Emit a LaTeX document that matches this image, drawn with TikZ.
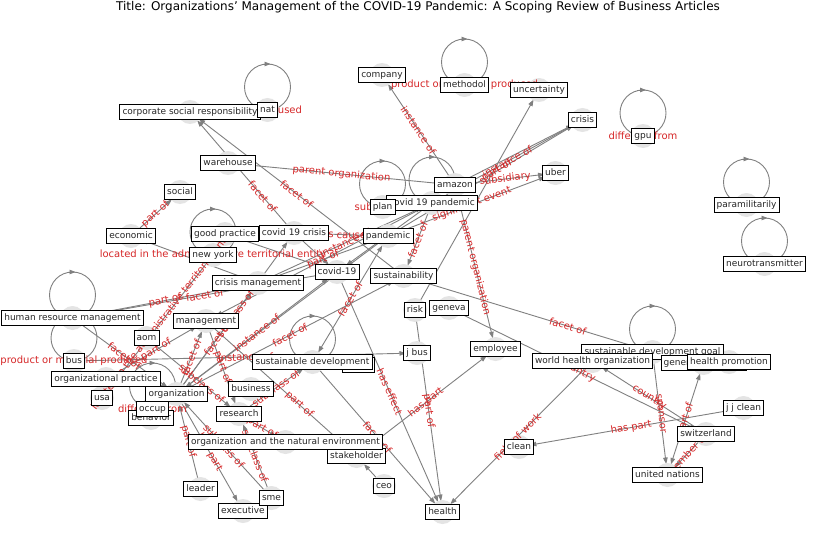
\documentclass[tikz,border=0pt]{standalone}
\usepackage{fontspec}
\setmainfont{DejaVu Sans}
\usetikzlibrary{arrows.meta}
\pgfdeclarelayer{bg}
\pgfdeclarelayer{edges}
\pgfdeclarelayer{disks}
\pgfdeclarelayer{elabels}
\pgfsetlayers{bg,edges,disks,elabels,main}
\definecolor{edgegray}{RGB}{128,128,128}
\definecolor{diskgray}{RGB}{228,228,228}
\definecolor{labred}{RGB}{214,39,40}
\tikzset{
 nb/.style={draw=black, line width=0.8pt, fill=white, font=\fontsize{9}{10}\selectfont, text=black!85, inner xsep=2.7pt, inner ysep=2.7pt, text height=7.6pt, text depth=2.1pt},
 el/.style={sloped, font=\fontsize{10}{11}\selectfont, text=labred, inner sep=0pt},
 ed/.style={draw=edgegray, line width=0.9pt, -{Triangle[length=6.5pt,width=4.5pt]}, shorten >=11pt, shorten <=11pt},
 edb/.style={ed, {Triangle[length=6.5pt,width=4.5pt]}-{Triangle[length=6.5pt,width=4.5pt]}},
 lp/.style={draw=edgegray, line width=0.9pt},
 disk/.style={fill=diskgray}
}
\newcommand\edg[4]{%
  \begin{pgfonlayer}{edges}\draw[ed] (#1.center) -- (#2.center);\end{pgfonlayer}%
  \begin{pgfonlayer}{elabels}\path (#1.center) -- node[el,pos=#4]{#3} (#2.center);\end{pgfonlayer}}
\newcommand\edgn[2]{\begin{pgfonlayer}{edges}\draw[ed] (#1.center) -- (#2.center);\end{pgfonlayer}}
\newcommand\selfloop[2]{%
  \begin{pgfonlayer}{edges}
  \draw[lp] ([yshift=23pt]#1.center) circle[radius=23pt];
  \draw[lp,-{Triangle[length=6pt,width=4.5pt]}] ([xshift=-6pt,yshift=46pt]#1.center) -- ([xshift=3pt,yshift=46pt]#1.center);
  \end{pgfonlayer}%
  \begin{pgfonlayer}{elabels}\node[el] at (#1.center) {#2};\end{pgfonlayer}}
\begin{document}
\begin{tikzpicture}[x=1pt,y=-1pt]
\begin{pgfonlayer}{bg}\fill[white] (0,0) rectangle (837,559);\end{pgfonlayer}
\useasboundingbox (0,0) rectangle (837,559);
\node[font=\fontsize{12}{14}\selectfont, text=black] (title) at (418,7) {Title: Organizations’ Management of the COVID-19 Pandemic: A Scoping Review of Business Articles};
% nodes
\node[nb] (csr) at (190,112) {corporate social responsibility};
\node[nb] (nat) at (267.5,110) {nat};
\node[nb] (company) at (382,75) {company};
\node[nb] (methodol) at (464.5,85) {methodol};
\node[nb] (uncertainty) at (539,90) {uncertainty};
\node[nb] (crisis) at (582.5,120) {crisis};
\node[nb] (gpu) at (643,136) {gpu};
\node[nb] (warehouse) at (228,163) {warehouse};
\node[nb] (social) at (180,192) {social};
\node[nb] (amazon) at (455,185) {amazon};
\node[nb] (uber) at (555.5,173) {uber};
\node[nb] (covpand) at (432,203) {covid 19 pandemic};
\node[nb] (plan) at (382.5,207) {plan};
\node[nb] (economic) at (131,236) {economic};
\node[nb] (goodpr) at (225,234) {good practice};
\node[nb] (covcrisis) at (294,233) {covid 19 crisis};
\node[nb] (pandemic) at (388,236) {pandemic};
\node[nb] (newyork) at (213,255) {new york};
\node[nb] (covid) at (337,272) {covid-19};
\node[nb] (sustain) at (403.5,276) {sustainability};
\node[nb] (crismgmt) at (258,283) {crisis management};
\node[nb] (paramil) at (746.5,205) {paramilitarily};
\node[nb] (neuro) at (764.5,264) {neurotransmitter};
\node[nb] (hrm) at (72.5,318) {human resource management};
\node[nb] (management) at (206,321) {management};
\node[nb] (aom) at (146.5,338) {aom};
\node[nb] (risk) at (415,310) {risk};
\node[nb] (geneva) at (449,308) {geneva};
\node[nb] (bus) at (74,361) {bus};
\node[nb] (jbus) at (417,353) {j bus};
\node[nb] (employee) at (495.5,349) {employee};
\node[nb, minimum width=32pt] (hid) at (358,365) {};
\node[nb] (susdev) at (312.5,362) {sustainable development};
\node[nb] (orgpr) at (106,379) {organizational practice};
\node[nb] (behavior) at (151,418) {behavior};
\node[nb] (organization) at (176.5,394) {organization};
\node[nb] (occup) at (152.5,409) {occup};
\node[nb] (business) at (251,389) {business};
\node[nb] (usa) at (102,398) {usa};
\node[nb] (research) at (239,414) {research};
\node[nb] (sdg) at (652.5,352) {sustainable development goal};
\node[nb] (who) at (592.5,361) {world health organization};
\node[nb] (genass) at (703.5,363) {general assembly};
\node[nb] (healthpro) at (729,362) {health promotion};
\node[nb] (jjclean) at (743.5,408) {j j clean};
\node[nb] (switz) at (706,434) {switzerland};
\node[nb] (clean) at (519,447) {clean};
\node[nb] (un) at (667.5,475) {united nations};
\node[nb] (stakeholder) at (356.5,456) {stakeholder};
\node[nb] (ornat) at (285.5,442) {organization and the natural environment};
\node[nb] (ceo) at (384,486) {ceo};
\node[nb] (health) at (442.5,512) {health};
\node[nb] (leader) at (200.5,489) {leader};
\node[nb] (executive) at (243,511) {executive};
\node[nb] (sme) at (271.5,498) {sme};
% disks
\begin{pgfonlayer}{disks}
\foreach \n in {csr,nat,company,methodol,uncertainty,crisis,gpu,warehouse,social,amazon,uber,covpand,plan,economic,goodpr,covcrisis,pandemic,newyork,covid,sustain,crismgmt,paramil,neuro,hrm,management,aom,risk,geneva,bus,jbus,employee,susdev,orgpr,behavior,organization,occup,business,usa,research,sdg,who,genass,healthpro,jjclean,switz,clean,un,stakeholder,ornat,ceo,health,leader,executive,sme}
  {\fill[disk] (\n.center) circle[radius=12pt];}
\end{pgfonlayer}
% self loops
\selfloop{nat}{material used}
\selfloop{methodol}{product or material produced}
\selfloop{gpu}{different from}
\selfloop{plan}{subclass of}
\selfloop{covpand}{}
\selfloop{newyork}{located in the administrative territorial entity}
\selfloop{hrm}{}
\selfloop{bus}{product or material produced}
\selfloop{occup}{different from}
\selfloop{susdev}{}
\selfloop{sdg}{}
\selfloop{paramil}{}
\selfloop{neuro}{}
% edges
\edg{amazon}{company}{instance of}{0.5}
\edg{warehouse}{amazon}{parent organization}{0.5}
\edgn{risk}{uncertainty}
\edgn{amazon}{crisis}
\edg{covpand}{crisis}{instance of}{0.5}
\edg{pandemic}{crisis}{part of}{0.56}
\edg{amazon}{uber}{subsidiary}{0.5}
\edg{pandemic}{uber}{significant event}{0.5}
\edg{amazon}{employee}{parent organization}{0.5}
\edg{covpand}{sustain}{facet of}{0.5}
\edg{pandemic}{covcrisis}{has cause}{0.5}
\edg{crismgmt}{pandemic}{part of}{0.5}
\edg{crismgmt}{covpand}{instance of}{0.5}
\begin{pgfonlayer}{edges}\draw[edb] (susdev.center) -- (pandemic.center);\end{pgfonlayer}
\begin{pgfonlayer}{elabels}\path (susdev.center) -- node[el,pos=0.5]{facet of} (pandemic.center);\end{pgfonlayer}
\edg{covcrisis}{csr}{facet of}{0.3}
\edg{sustain}{csr}{facet of}{0.5}
\edg{economic}{social}{part of}{0.5}
\edgn{crismgmt}{economic}
\edg{hrm}{crismgmt}{part of}{0.5}
\edg{hrm}{covid}{facet of}{0.5}
\edg{hrm}{organization}{facet of}{0.5}
\edg{newyork}{usa}{located in the administrative territorial entity}{0.45}
\edg{orgpr}{management}{part of}{0.5}
\edg{organization}{covcrisis}{subclass of}{0.5}
\edg{organization}{management}{facet of}{0.5}
\edg{organization}{crismgmt}{facet of}{0.5}
\edg{organization}{covid}{instance of}{0.5}
\edg{organization}{sustain}{facet of}{0.5}
\edg{bus}{jbus}{instance of}{0.5}
\edg{management}{research}{part of}{0.5}
\edg{research}{susdev}{subclass of}{0.5}
\edg{aom}{research}{subclass of}{0.6}
\edg{management}{stakeholder}{part of}{0.62}
\edg{leader}{organization}{part of}{0.5}
\edg{organization}{executive}{has part}{0.5}
\edg{sme}{organization}{subclass of}{0.5}
\edg{sme}{research}{subclass of}{0.5}
\edg{research}{ornat}{part of}{0.5}
\edg{covid}{health}{has effect}{0.5}
\edg{susdev}{health}{facet of}{0.5}
\edg{stakeholder}{employee}{has part}{0.5}
\edg{risk}{health}{part of}{0.5}
\edg{who}{health}{field of work}{0.5}
\edg{jjclean}{clean}{has part}{0.5}
\edg{geneva}{switz}{country}{0.5}
\edg{switz}{who}{country}{0.5}
\edg{sdg}{un}{sponsor}{0.5}
\edg{switz}{un}{member of}{0.5}
\begin{pgfonlayer}{edges}\draw[edb] (genass.center) -- (un.center);\end{pgfonlayer}
\begin{pgfonlayer}{elabels}\path (genass.center) -- node[el,pos=0.5]{part of} (un.center);\end{pgfonlayer}
\edg{sustain}{sdg}{facet of}{0.66}
\edgn{goodpr}{covid}
\edgn{ceo}{stakeholder}
\edgn{covcrisis}{covid}
\edgn{covpand}{covid}
\edgn{covpand}{management}
\edgn{pandemic}{organization}
\end{tikzpicture}
\end{document}
